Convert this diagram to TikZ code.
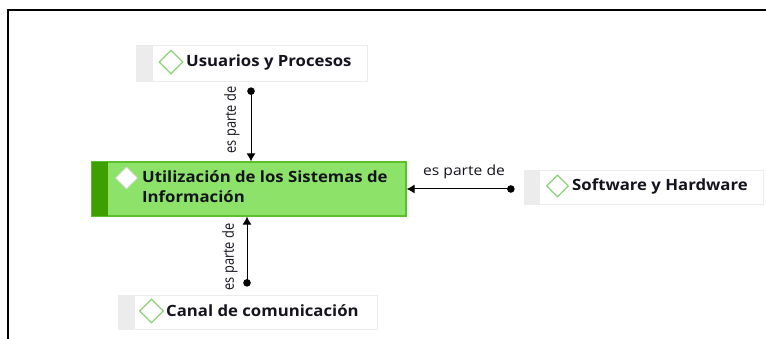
\documentclass[tikz,border=0pt]{standalone}
\usepackage{fontspec}
\setmainfont{Open Sans}[FakeStretch=1.08]
\newfontfamily\lblfont{Open Sans}[FakeStretch=1.12]
\newfontfamily\vlblfont{Open Sans}
\usetikzlibrary{shapes.geometric,arrows.meta,calc}
\definecolor{mainfill}{RGB}{141,226,106}
\definecolor{mainborder}{RGB}{92,192,44}
\definecolor{mainstrip}{RGB}{62,160,0}
\definecolor{graybox}{RGB}{236,236,236}
\definecolor{diamgreen}{RGB}{140,210,120}
\definecolor{txt}{RGB}{20,20,30}
\tikzset{
  gbox/.style={rectangle, draw=graybox, fill=white, line width=0.8pt, inner sep=0pt},
  mbox/.style={rectangle, draw=mainborder, fill=mainfill, line width=1.2pt, inner sep=0pt},
  diam/.style={diamond, draw=diamgreen, fill=white, line width=1.3pt, inner sep=0pt, minimum size=#1},
  wdiam/.style={diamond, draw=black!15, fill=white, line width=0.8pt, inner sep=0pt, minimum size=#1},
  ntext/.style={font=\fontsize{15.5}{20}\selectfont\bfseries, text=txt, inner sep=0pt, anchor=west, align=left},
  lbl/.style={font=\lblfont\fontsize{14}{16}\selectfont, text=txt, inner sep=0pt},
  vlbl/.style={font=\vlblfont\fontsize{12.8}{15}\selectfont, text=txt, inner sep=0pt, rotate=90},
  conn/.style={line width=1pt, black, {Circle[length=7.5pt]}-{Latex[length=8pt,width=9pt]}}
}
\begin{document}
\begin{tikzpicture}[x=1pt,y=-1pt]
\useasboundingbox (0,0) rectangle (766,339);
\draw[line width=2pt] (8,345) -- (8,10) -- (770,10);
% Usuarios
\node[gbox, minimum width=231pt, minimum height=36pt] (us) at (251.5,63) {};
\fill[graybox] (us.north west) rectangle ($(us.south west)+(17,0)$);
\node[diam=24pt] (usd) at (171,62) {};
\node[ntext] (ust) at (186,62) {Usuarios y Procesos};
% Main
\node[mbox, minimum width=314pt, minimum height=54pt] (main) at (249,189) {};
\fill[mainstrip] ($(main.north west)+(0.6,0.6)$) rectangle ($(main.south west)+(17,-0.6)$);
\node[wdiam=22pt] (maind) at (126.5,178) {};
\node[ntext] (maint) at (142,187) {Utilización de los Sistemas de\\Información};
% Software
\node[gbox, minimum width=239pt, minimum height=34pt] (sw) at (643.5,187) {};
\fill[graybox] (sw.north west) rectangle ($(sw.south west)+(16,0)$);
\node[diam=22pt] (swd) at (557.5,186) {};
\node[ntext] (swt) at (572,186) {Software y Hardware};
% Canal
\node[gbox, minimum width=259pt, minimum height=34pt] (cn) at (247.5,312) {};
\fill[graybox] (cn.north west) rectangle ($(cn.south west)+(17,0)$);
\node[diam=24pt] (cnd) at (151.5,311) {};
\node[ntext] (cnt) at (166,311) {Canal de comunicación};
% connectors
\coordinate (c1) at ($(us.south)+(-0.5,6)$);
\coordinate (c2) at ($(sw.west)+(-9,2)$);
\coordinate (c3) at ($(cn.north)+(-0.5,-8)$);
\draw[conn] (c1) -- (c1 |- main.north);
\draw[conn] (c2) -- (c2 -| main.east);
\draw[conn] (c3) -- (c3 |- main.south);
\node[vlbl] (l1) at (232,120) {\scalebox{1}[1.2]{es parte de}};
\node[lbl] (l2) at (464,172) {es parte de};
\node[vlbl] (l3) at (230,257) {\scalebox{1}[1.2]{es parte de}};
\end{tikzpicture}
\end{document}
